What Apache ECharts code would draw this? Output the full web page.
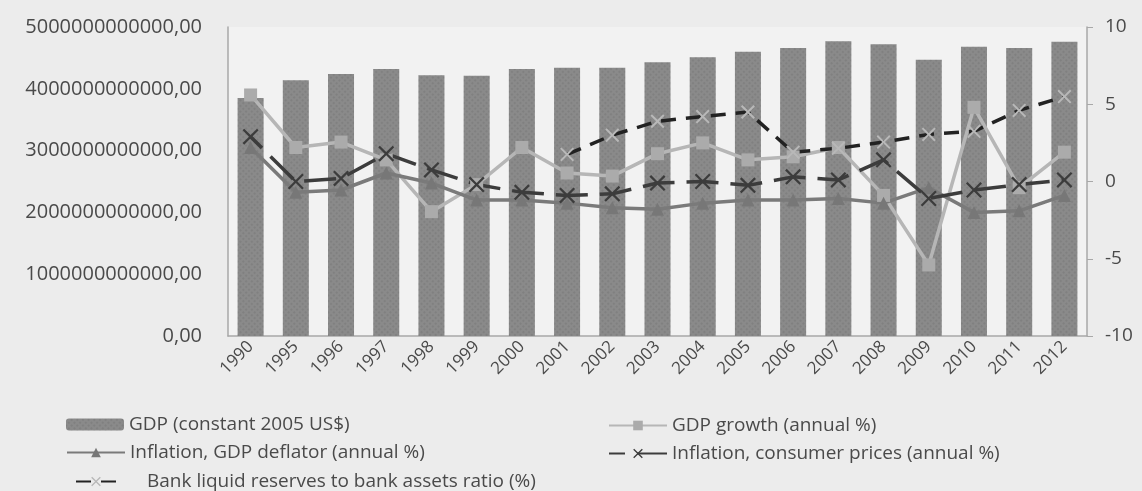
<!DOCTYPE html>
<html lang="en">
<head>
<meta charset="utf-8">
<title>GDP and inflation</title>
<script src="https://cdn.jsdelivr.net/npm/echarts@6/dist/echarts.min.js"></script>
<style>
  html, body { margin: 0; padding: 0; background: #ececec; }
  #main { width: 1142px; height: 491px; }
</style>
</head>
<body>
<div id="main"></div>
<script>
// years on the x axis
var years = ['1990', '1995', '1996', '1997', '1998', '1999', '2000', '2001', '2002', '2003',
             '2004', '2005', '2006', '2007', '2008', '2009', '2010', '2011', '2012'];

// GDP (constant 2005 US$), left axis
var gdp = [3.85e12, 4.14e12, 4.24e12, 4.32e12, 4.22e12, 4.21e12, 4.32e12, 4.34e12, 4.34e12, 4.43e12,
           4.51e12, 4.60e12, 4.66e12, 4.77e12, 4.72e12, 4.47e12, 4.68e12, 4.66e12, 4.76e12];

// right axis series (%)
var gdpGrowth = [5.6, 2.2, 2.55, 1.4, -1.95, -0.2, 2.2, 0.55, 0.35, 1.8,
                 2.5, 1.4, 1.6, 2.2, -0.9, -5.4, 4.8, -0.4, 1.9];
var deflator = [2.2, -0.7, -0.55, 0.55, -0.1, -1.2, -1.2, -1.4, -1.7, -1.8,
                -1.4, -1.2, -1.2, -1.1, -1.4, -0.4, -2.0, -1.9, -0.9];
var cpi = [2.9, 0.0, 0.2, 1.8, 0.75, -0.2, -0.7, -0.9, -0.8, -0.1,
           0.0, -0.25, 0.3, 0.1, 1.4, -1.1, -0.55, -0.2, 0.1];
var bankReserves = [null, null, null, null, null, null, null, 1.75, 3.0, 3.9,
                    4.2, 4.5, 1.9, 2.15, 2.55, 3.05, 3.25, 4.6, 5.5];

var leftTicks = [0, 1e12, 2e12, 3e12, 4e12, 5e12];

var names = ['GDP (constant 2005 US$)', 'GDP growth (annual %)', 'Inflation, GDP deflator (annual %)',
             'Inflation, consumer prices (annual %)', 'Bank liquid reserves to bank assets ratio (%)'];

var xMark = 'path://M0,2 L2,0 L10,8 L18,0 L20,2 L12,10 L20,18 L18,20 L10,12 L2,20 L0,18 L8,10 Z';
var font = 'Open Sans';
var txt = '#4a4a4a';

var chart = echarts.init(document.getElementById('main'));

function legendAt(name, left, top, pad) {
    return {
        data: [name],
        left: left,
        top: top,
        itemWidth: 58,
        itemHeight: 12,
        selectedMode: false,
        textStyle: { fontFamily: font, fontSize: 19, color: txt, padding: [0, 0, 0, pad || 0] }
    };
}

chart.setOption({
    backgroundColor: '#ececec',
    animation: false,
    grid: {
        left: 228, right: 55, top: 27, bottom: 155,
        show: true, backgroundColor: '#f2f2f2', borderWidth: 0
    },
    legend: [
        legendAt(names[0], 61, 410),
        legendAt(names[1], 603, 411),
        legendAt(names[2], 61, 438),
        legendAt(names[3], 603, 439),
        legendAt(names[4], 61, 467, 17)
    ],
    xAxis: {
        type: 'category',
        data: years,
        axisLine: { lineStyle: { color: '#a8a8a8', width: 1.5 } },
        axisTick: { show: false },
        axisLabel: { rotate: 45, margin: 8, fontFamily: font, fontSize: 17, color: txt }
    },
    yAxis: [{
        type: 'value',
        min: 0, max: 5e12, interval: 1e12,
        axisLine: { show: true, lineStyle: { color: '#a8a8a8', width: 1.5 } },
        axisTick: { show: false },
        splitLine: { show: false },
        axisLabel: {
            margin: 26, fontFamily: font, fontSize: 20, color: txt,
            formatter: function (v) { return leftTicks.indexOf(v) >= 0 ? v.toFixed(2).replace('.', ',') : ''; }
        }
    }, {
        type: 'value',
        position: 'right',
        min: -10, max: 10, interval: 5,
        axisLine: { show: true, lineStyle: { color: '#a8a8a8', width: 1.5 } },
        axisTick: { show: true, length: 6, lineStyle: { color: '#a8a8a8' } },
        splitLine: { show: false },
        axisLabel: { margin: 18, fontFamily: font, fontSize: 19, color: txt }
    }],
    series: [{
        name: names[0],
        type: 'bar',
        data: gdp,
        barWidth: 26,
        itemStyle: {
            color: '#8a8a8a',
            decal: {
                symbol: 'rect',
                symbolSize: 0.6,
                color: 'rgba(70,70,70,0.45)',
                dashArrayX: [[2, 2]],
                dashArrayY: [2, 2],
                rotation: 0.785
            }
        }
    }, {
        name: names[1],
        type: 'line',
        yAxisIndex: 1,
        data: gdpGrowth,
        symbol: 'rect',
        symbolSize: 13,
        lineStyle: { color: '#b6b6b6', width: 3.5 },
        itemStyle: { color: '#ababab' }
    }, {
        name: names[2],
        type: 'line',
        yAxisIndex: 1,
        data: deflator,
        symbol: 'triangle',
        symbolSize: 13,
        lineStyle: { color: '#7a7a7a', width: 3.5 },
        itemStyle: { color: '#777777' }
    }, {
        name: names[3],
        type: 'line',
        yAxisIndex: 1,
        data: cpi,
        symbol: xMark,
        symbolSize: 16,
        lineStyle: { color: '#3c3c3c', width: 3.5, type: [32, 12], dashOffset: 16 },
        itemStyle: { color: '#3c3c3c' }
    }, {
        name: names[4],
        type: 'line',
        yAxisIndex: 1,
        data: bankReserves,
        connectNulls: false,
        symbol: xMark,
        symbolSize: 14,
        lineStyle: { color: '#222222', width: 3.5, type: [15, 10] },
        itemStyle: { color: '#b8b8b8' }
    }]
});
</script>
</body>
</html>
